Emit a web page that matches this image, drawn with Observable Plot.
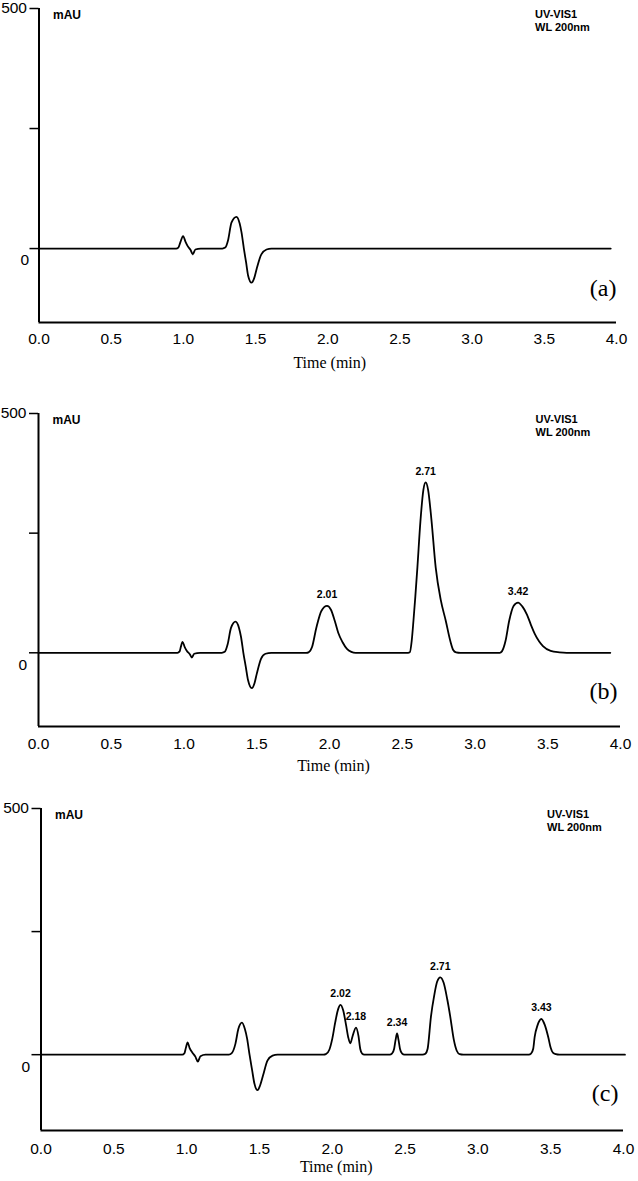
<!DOCTYPE html>
<html>
<head>
<meta charset="utf-8">
<script src="https://cdn.jsdelivr.net/npm/d3@7"></script>
<script src="https://cdn.jsdelivr.net/npm/@observablehq/plot@0.6"></script>
<style>
  html, body { margin: 0; padding: 0; background: #fff; }
  #chart { width: 638px; }
  #chart svg { display: block; }
</style>
</head>
<body>
<div id="chart"></div>
<script>
// ---------- data ----------
const xTicks = [0, 0.5, 1, 1.5, 2, 2.5, 3, 3.5, 4];
const yTicks = [0, 250, 500];
const yDomain = [-154, 500];
const xLabel = "Time (min)";
const yUnit = "mAU";
const detectorLines = ["UV-VIS1", "WL 200nm"];
const panelTags = ["(a)", "(b)", "(c)"];

// traces: [time (min), signal (mAU)]
const traceA = [
  [0,0],[0.95,0],[0.965,2],[0.98,14],[0.998,26],[1.015,14],[1.03,5],[1.05,-3],[1.065,-12],[1.083,-2],[1.12,0],
  [1.27,0],[1.29,2],[1.31,18],[1.333,54],[1.368,66],[1.39,52],[1.403,33],[1.419,0],[1.435,-30],[1.449,-57],
  [1.472,-71],[1.49,-62],[1.507,-43],[1.54,-12],[1.576,-2],[1.61,0],[3.96,0]
];
const traceB = [
  [0,0],[0.955,0],[0.97,3],[0.978,12],[0.99,23],[1.005,12],[1.02,4],[1.04,-3],[1.054,-10],[1.07,-2],[1.11,0],
  [1.26,0],[1.28,2],[1.30,18],[1.323,52],[1.354,65],[1.378,52],[1.392,33],[1.408,0],[1.425,-30],[1.44,-57],
  [1.466,-74],[1.485,-63],[1.50,-44],[1.53,-12],[1.56,-2],[1.60,0],
  [1.84,0],[1.856,1],[1.88,12],[1.91,53],[1.945,88],[1.983,98],[2.01,90],[2.036,67],[2.06,42],[2.09,22],[2.12,8],[2.15,2],[2.18,0],
  [2.54,0],[2.552,1],[2.565,25],[2.577,67],[2.59,118],[2.604,178],[2.625,275],[2.645,340],[2.661,356],[2.678,340],
  [2.70,280],[2.73,178],[2.765,110],[2.799,67],[2.83,25],[2.85,6],[2.87,1],[2.90,0],
  [3.17,0],[3.185,3],[3.21,25],[3.235,67],[3.265,98],[3.296,105],[3.325,97],[3.357,80],[3.385,58],[3.41,40],
  [3.44,24],[3.467,14],[3.52,4],[3.58,1],[3.63,0],[3.93,0]
];
const traceC = [
  [0,0],[0.97,0],[0.985,3],[0.995,14],[1.007,25],[1.02,14],[1.04,4],[1.06,-4],[1.077,-14],[1.095,-3],[1.13,0],
  [1.29,0],[1.31,3],[1.335,22],[1.355,52],[1.38,65],[1.40,52],[1.415,33],[1.432,0],[1.45,-32],[1.465,-58],
  [1.487,-72],[1.505,-62],[1.525,-42],[1.555,-12],[1.59,-2],[1.625,0],
  [1.94,0],[1.956,1],[1.98,10],[2.00,32],[2.02,65],[2.04,92],[2.057,101],[2.075,90],[2.095,60],[2.11,35],[2.124,23],
  [2.14,38],[2.163,55],[2.18,38],[2.192,12],[2.205,2],[2.22,0],
  [2.395,0],[2.41,2],[2.425,12],[2.435,30],[2.445,43],[2.455,30],[2.465,12],[2.48,2],[2.495,0],
  [2.62,0],[2.64,2],[2.655,12],[2.678,78],[2.70,120],[2.72,148],[2.742,157],[2.765,146],[2.79,112],[2.81,78],
  [2.835,30],[2.855,8],[2.875,1],[2.90,0],
  [3.35,0],[3.365,2],[3.38,12],[3.39,36],[3.41,60],[3.436,72.5],[3.46,60],[3.483,36],[3.50,14],[3.515,4],[3.535,1],[3.56,0],[4.01,0]
];

// labelled peaks: apex time, apex height, retention label
const peaksA = [];
const peaksB = [
  {t: 1.983, v: 98, label: "2.01"},
  {t: 2.661, v: 356, label: "2.71"},
  {t: 3.296, v: 105, label: "3.42"}
];
const peaksC = [
  {t: 2.057, v: 101, label: "2.02"},
  {t: 2.163, v: 55, label: "2.18"},
  {t: 2.445, v: 43, label: "2.34"},
  {t: 2.742, v: 157, label: "2.71"},
  {t: 3.436, v: 72.5, label: "3.43"}
];

// ---------- layout ----------
const SANS = "'Liberation Sans', Arial, Helvetica, sans-serif";
const SERIF = "'Liberation Serif', 'Times New Roman', serif";

const layouts = [
  {trace: traceA, peaks: peaksA, tag: panelTags[0], height: 405, mb: 83, ml: 38.5, x4: 616, tickPad: 10, titleDy: 45, titleDx: 2, tagDx: 0, tagDy: -27, infoDx: 496, zeroDx: -10, zeroDy: 11},
  {trace: traceB, peaks: peaksB, tag: panelTags[1], height: 395, mb: 74, ml: 38, x4: 620, tickPad: 11, titleDy: 44, titleDx: 4, tagDx: -3, tagDy: -28, infoDx: 497, zeroDx: -11.5, zeroDy: 12},
  {trace: traceC, peaks: peaksC, tag: panelTags[2], height: 381, mb: 51, ml: 40.5, x4: 623, tickPad: 12, titleDy: 41, titleDx: 4, tagDx: -5, tagDy: -30, infoDx: 506, zeroDx: -11, zeroDy: 12}
];

function panel(p) {
  const data = p.trace.map(([t, v]) => ({t, v}));
  return Plot.plot({
    width: 638,
    height: p.height,
    marginTop: 8,
    marginBottom: p.mb,
    marginLeft: p.ml,
    marginRight: 638 - p.x4,
    style: {fontFamily: SANS, fontSize: "15px", color: "#000", background: "#fff", overflow: "visible"},
    x: {domain: [0, 4]},
    y: {domain: yDomain},
    marks: [
      Plot.axisX({ticks: xTicks, tickSize: 0, tickPadding: p.tickPad, tickFormat: d3.format(".1f"), fontSize: 15.5, label: null}),
      Plot.axisY({ticks: yTicks, tickSize: 9, tickFormat: () => "", label: null, strokeWidth: 1.5}),
      Plot.text([500], {x: 0, y: d => d, text: d => String(d), textAnchor: "end", dx: -12, fontSize: 15.5}),
      Plot.text([0], {x: 0, y: d => d, text: d => String(d), textAnchor: "end", dx: p.zeroDx, dy: p.zeroDy, fontSize: 15.5}),
      Plot.ruleX([0], {stroke: "#000", strokeWidth: 2}),
      Plot.ruleY([yDomain[0]], {x1: 0, x2: 4, stroke: "#000", strokeWidth: 2}),
      Plot.line(data, {x: "t", y: "v", curve: "monotone-x", stroke: "#000", strokeWidth: 1.8}),
      Plot.text(p.peaks, {x: "t", y: "v", text: "label", dy: -11, fontSize: 10.5, fontWeight: "bold"}),
      Plot.text([yUnit], {frameAnchor: "top-left", text: d => d, dx: 14, dy: 2, textAnchor: "start", fontSize: 12, fontWeight: "bold"}),
      Plot.text([detectorLines.join("\n")], {frameAnchor: "top-left", text: d => d, dx: p.infoDx, textAnchor: "start", lineAnchor: "top", lineHeight: 1.18, fontSize: 11, fontWeight: "bold"}),
      Plot.text([p.tag], {frameAnchor: "bottom-right", text: d => d, textAnchor: "end", dx: p.tagDx, dy: p.tagDy, fontFamily: SERIF, fontSize: 24}),
      Plot.text([xLabel], {frameAnchor: "bottom", text: d => d, dx: p.titleDx, dy: p.titleDy, fontFamily: SERIF, fontSize: 16})
    ]
  });
}

const root = document.getElementById("chart");
for (const p of layouts) root.appendChild(panel(p));
</script>
</body>
</html>
